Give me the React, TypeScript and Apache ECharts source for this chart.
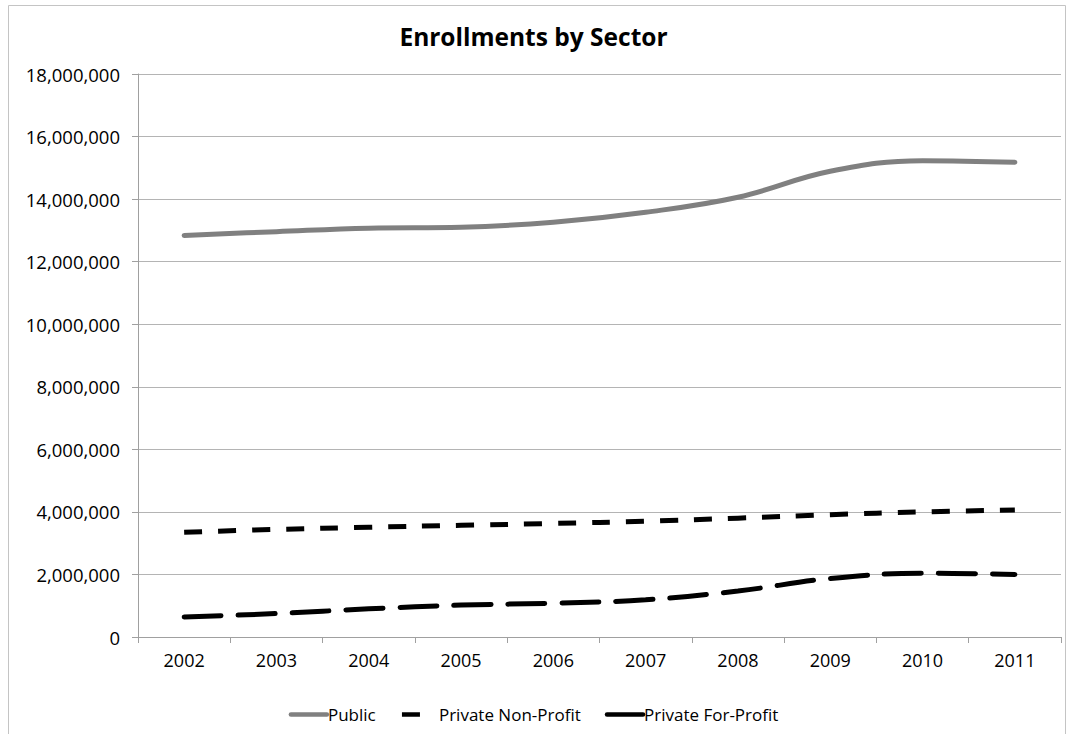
import React, { useEffect, useRef } from "react";
import * as echarts from "echarts";

const years = ["2002", "2003", "2004", "2005", "2006", "2007", "2008", "2009", "2010", "2011"];
const publicVals = [12840000, 12960000, 13070000, 13100000, 13260000, 13580000, 14060000, 14890000, 15230000, 15180000];
const nonProfitVals = [3350000, 3440000, 3510000, 3570000, 3630000, 3700000, 3800000, 3910000, 4000000, 4060000];
const forProfitVals = [640000, 750000, 900000, 1020000, 1080000, 1190000, 1470000, 1870000, 2040000, 2000000];

const FONT = "'Open Sans', sans-serif";

export default function App() {
  const ref = useRef<HTMLDivElement>(null);
  useEffect(() => {
    const chart = echarts.init(ref.current!, null, { renderer: "svg" });
    chart.setOption({
      animation: false,
      backgroundColor: "#ffffff",
      title: {
        text: "Enrollments by Sector",
        left: "center",
        top: 19,
        textStyle: { fontFamily: FONT, fontWeight: "bold", fontSize: 24.5, color: "#000" },
      },
      graphic: [
        {
          type: "rect",
          shape: { x: 8.5, y: 5.5, width: 1057, height: 740 },
          style: { fill: "none", stroke: "#c4c4c4", lineWidth: 1 },
          silent: true,
        },
      ],
      legend: {
        bottom: 6,
        left: "center",
        itemWidth: 36,
        itemHeight: 10,
        itemGap: 24,
        itemStyle: { opacity: 0 },
        textStyle: { fontFamily: FONT, fontSize: 17, color: "#000", padding: [0, 0, 0, -4] },
        data: [
          { name: "Public", lineStyle: { width: 4.5, color: "#808080", type: "solid" } },
          { name: "Private Non-Profit", lineStyle: { width: 4.5, color: "#000", type: [18, 22] } },
          { name: "Private For-Profit", lineStyle: { width: 4.5, color: "#000", type: "solid" } },
        ],
      },
      grid: { left: 138, right: 6, top: 74, bottom: 97, containLabel: false },
      xAxis: {
        type: "category",
        data: years,
        boundaryGap: true,
        axisLine: { lineStyle: { color: "#a0a0a0", width: 1 } },
        axisTick: { show: true, length: 6, lineStyle: { color: "#a0a0a0" } },
        axisLabel: { fontFamily: FONT, fontSize: 18, color: "#000", margin: 14 },
      },
      yAxis: {
        type: "value",
        min: 0,
        max: 18000000,
        interval: 2000000,
        axisLine: { show: true, lineStyle: { color: "#a0a0a0", width: 1 } },
        axisTick: { show: true, length: 6, lineStyle: { color: "#a0a0a0" } },
        splitLine: { lineStyle: { color: "#b4b4b4", width: 1 } },
        axisLabel: {
          fontFamily: FONT,
          fontSize: 18.5,
          color: "#000",
          margin: 18,
          formatter: (v: number) => v.toLocaleString("en-US"),
        },
      },
      series: [
        {
          name: "Public",
          type: "line",
          data: publicVals,
          smooth: 0.4,
          symbol: "none",
          itemStyle: { color: "#808080" },
          lineStyle: { color: "#808080", width: 5, cap: "round" },
        },
        {
          name: "Private Non-Profit",
          type: "line",
          data: nonProfitVals,
          smooth: 0.4,
          symbol: "none",
          itemStyle: { color: "#000" },
          lineStyle: { color: "#000", width: 5, type: [18, 16] },
        },
        {
          name: "Private For-Profit",
          type: "line",
          data: forProfitVals,
          smooth: 0.4,
          symbol: "none",
          itemStyle: { color: "#000" },
          lineStyle: { color: "#000", width: 5, type: [37, 17], cap: "round" },
        },
      ],
    });
    return () => chart.dispose();
  }, []);
  return (
    <div
      ref={ref}
      style={{ position: "fixed", left: 0, top: 0, width: 1067, height: 734 }}
    />
  );
}
